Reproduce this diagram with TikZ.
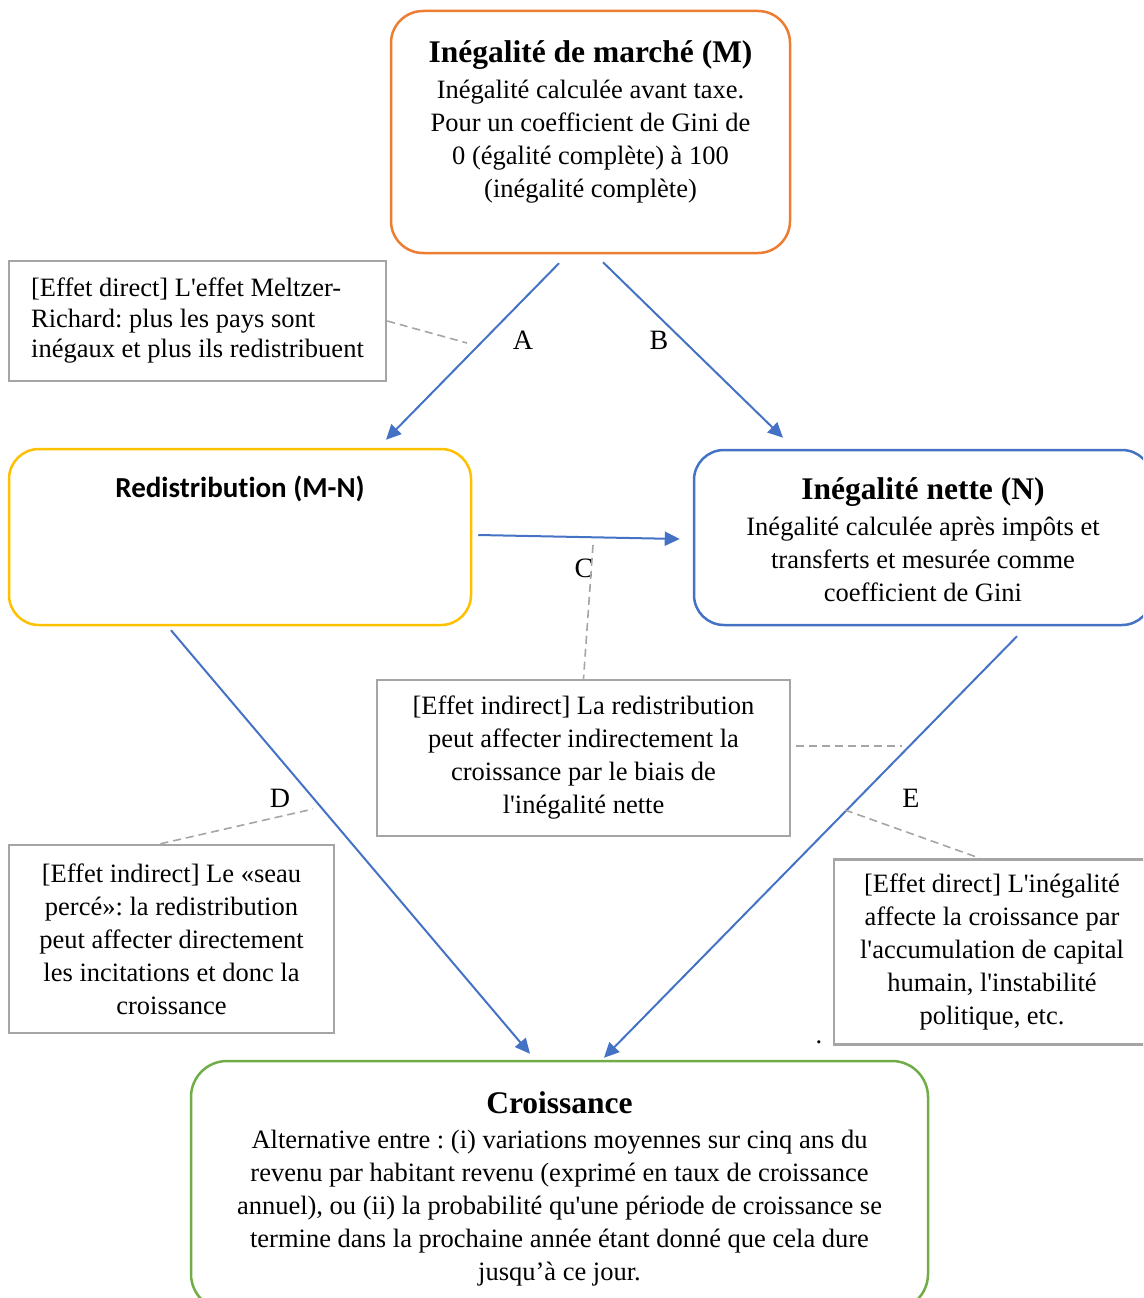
\documentclass[tikz,border=0pt]{standalone}
\usepackage{fontspec}
\setmainfont{Liberation Serif}[Ligatures=TeXOff]
\newfontfamily\calibri{Carlito}[Ligatures={NoCommon,NoRequired,NoContextual}]
\usepackage{tikz}
\usetikzlibrary{arrows.meta,positioning,calc}

\definecolor{boxorange}{HTML}{ED7D31}
\definecolor{boxyellow}{HTML}{FFC000}
\definecolor{boxblue}{HTML}{4472C4}
\definecolor{boxgreen}{HTML}{70AD47}
\definecolor{notegray}{HTML}{A5A5A5}
\frenchspacing

\begin{document}
\begin{tikzpicture}[x=1pt,y=-1pt,
  bigbox/.style={draw=#1,line width=2.5pt,rounded corners=32pt,inner sep=0pt},
  notebox/.style={draw=notegray,line width=2.5pt,inner sep=0pt,align=center,
    font=\fontsize{26.5}{33}\selectfont},
  txt/.style={inner sep=0pt,align=center,font=\fontsize{26.5}{33}\selectfont},
  link/.style={draw=boxblue,line width=2pt,-{Triangle[length=15pt,width=14pt]}},
  leader/.style={draw=notegray,line width=1.6pt,dash pattern=on 8pt off 5pt},
  lbl/.style={inner sep=0pt,font=\fontsize{28}{28}\selectfont}]
\useasboundingbox (0,0) rectangle (1143,1298);
\clip (0,0) rectangle (1143,1298);
% The four main boxes
\node[bigbox=boxorange,minimum width=399pt,minimum height=242pt] (M) at (590.5,132) {};
\node[bigbox=boxyellow,minimum width=462pt,minimum height=176pt,rounded corners=30pt] (R) at (240,537) {};
\node[bigbox=boxblue,minimum width=458pt,minimum height=175pt,rounded corners=30pt] (N) at (923,537.5) {};
\node[bigbox=boxgreen,minimum width=737pt,minimum height=249pt,rounded corners=36pt] (G) at (559.5,1185.5) {};
% Texts of the main boxes
\node[txt,below=31pt of M.north] (Mtext) {{\fontsize{31.5}{35}\selectfont\bfseries Inégalité de marché (M)}\\[3pt]
  Inégalité calculée avant taxe.\\Pour un coefficient de Gini de\\0 (égalité complète) à 100\\(inégalité complète)};
\node[inner sep=0pt,font=\fontsize{29}{33}\selectfont\calibri\bfseries,below=28pt of R.north] (Rtext) {Redistribution (M-N)};
\node[txt,below=29pt of N.north] (Ntext) {{\fontsize{31.5}{35}\selectfont\bfseries Inégalité nette (N)}\\[3pt]
  Inégalité calculée après impôts et\\transferts et mesurée comme\\coefficient de Gini};
\node[txt,below=32pt of G.north] (Gtext) {{\fontsize{31.5}{35}\selectfont\bfseries Croissance}\\[2pt]
  Alternative entre : (i) variations moyennes sur cinq ans du\\
  revenu par habitant revenu (exprimé en taux de croissance\\
  annuel), ou (ii) la probabilité qu'une période de croissance se\\
  termine dans la prochaine année étant donné que cela dure\\
  jusqu’à ce jour.};
% Comment boxes
\node[notebox,align=left,font=\fontsize{26.5}{30.5}\selectfont,minimum width=377pt,minimum height=120pt] (n1) at (197.5,321)
  {[Effet direct] L'effet Meltzer-\\Richard: plus les pays sont\\inégaux et plus ils redistribuent};
\node[notebox,minimum width=413pt,minimum height=156pt] (n2) at (583.5,758)
  {[Effet indirect] La redistribution\\peut affecter indirectement la\\croissance par le biais de\\l'inégalité nette};
\node[notebox,minimum width=325pt,minimum height=188pt] (n3) at (171.5,939)
  {[Effet indirect] Le «seau\\percé»: la redistribution\\peut affecter directement\\les incitations et donc la\\croissance};
\node[notebox,minimum width=316pt,minimum height=185pt] (n4) at (992,952)
  {[Effet direct] L'inégalité\\affecte la croissance par\\l'accumulation de capital\\humain, l'instabilité\\politique, etc.};
% Arrows
\draw[link] ([xshift=-31.5pt,yshift=-9pt]M.south) -- ([xshift=146pt,yshift=8pt]R.north);
\draw[link] ([xshift=12.5pt,yshift=-8pt]M.south) -- ([xshift=-140pt,yshift=11pt]N.north);
\draw[link] ([xshift=6pt,yshift=2pt]R.east) -- ([xshift=-13pt,yshift=-1.5pt]N.west);
\draw[link] ([xshift=-69pt,yshift=-4pt]R.south) -- ([xshift=-29.5pt,yshift=6pt]G.north);
\draw[link] ([xshift=94pt,yshift=-10pt]N.south) -- ([xshift=44.5pt,yshift=2pt]G.north);
% Arrow labels
\node[lbl] (lA) at (523,340) {A};
\node[lbl] (lB) at (659,340) {B};
\node[lbl] (lC) at (584,568) {C};
\node[lbl] (lD) at (280,798) {D};
\node[lbl] (lE) at (911,798) {E};
% Dashed leaders from the comments
\coordinate (pA) at (467,343);
\coordinate (pC) at (593,545);
\coordinate (pN) at (902,746);
\coordinate (pD) at (313,809);
\coordinate (pE) at (845,810);
\draw[leader] (n1.east) -- (pA);
\draw[leader] (pC) -- (n2.north);
\draw[leader] ([xshift=5pt,yshift=12pt]n2.east) -- (pN);
\draw[leader] ([xshift=-11pt]n3.north) -- (pD);
\draw[leader] (pE) -- ([xshift=-12pt]n4.north);
\node[txt] (dot) at (819,1042) {.};
\end{tikzpicture}
\end{document}
